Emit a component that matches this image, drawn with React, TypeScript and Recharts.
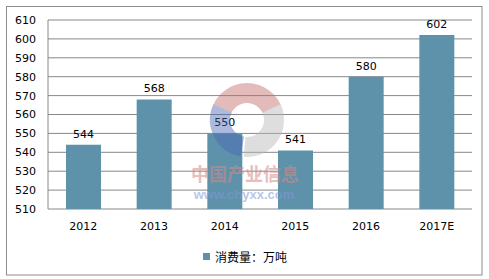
import React from "react";
import { BarChart, Bar, XAxis, YAxis, CartesianGrid, LabelList } from "recharts";

const categories = ["2012", "2013", "2014", "2015", "2016", "2017E"];
const consumption = [544, 568, 550, 541, 580, 602];
const yTicks = [510, 520, 530, 540, 550, 560, 570, 580, 590, 600, 610];
const legendLabel = "消费量：万吨";

const data = categories.map((c, i) => ({ name: c, value: consumption[i] }));

const BAR = "#5E92AA";
const FONT = "'DejaVu Sans', Verdana, sans-serif";

function arcPath(cx: number, cy: number, r: number, a0: number, a1: number) {
  const rad = (a: number) => (a * Math.PI) / 180;
  const x0 = cx + r * Math.cos(rad(a0));
  const y0 = cy + r * Math.sin(rad(a0));
  const x1 = cx + r * Math.cos(rad(a1));
  const y1 = cy + r * Math.sin(rad(a1));
  const large = Math.abs(a1 - a0) > 180 ? 1 : 0;
  return `M${x0},${y0} A${r},${r} 0 ${large} 1 ${x1},${y1}`;
}

export default function App() {
  return (
    <div style={{ position: "absolute", left: 0, top: 0, width: 489, height: 279, background: "#fff" }}>
      <svg width={489} height={279} style={{ position: "absolute", left: 0, top: 0 }}>
        <rect x={6.5} y={6.5} width={475.5} height={268.5} fill="#fff" stroke="#8c8c8c" strokeWidth={1} />
      </svg>
      <div style={{ position: "absolute", left: 0, top: 0 }}>
        <BarChart
          width={489}
          height={279}
          data={data}
          margin={{ top: 20, right: 17, left: 0, bottom: 40 }}
          barCategoryGap="25%"
        >
          <CartesianGrid vertical={false} stroke="#888" strokeWidth={1} />
          <XAxis
            dataKey="name"
            height={30}
            axisLine={false}
            tickLine={false}
            tickSize={0}
            tickMargin={13}
            tick={{ fontSize: 11, fill: "#000", fontFamily: FONT }}
            interval={0}
          />
          <YAxis
            width={48}
            domain={[510, 610]}
            ticks={yTicks}
            interval={0}
            axisLine={{ stroke: "#888" }}
            tickLine={false}
            tickSize={0}
            tickMargin={12}
            tick={{ fontSize: 11, fill: "#000", fontFamily: FONT }}
            allowDataOverflow
          />
          <Bar dataKey="value" fill={BAR} isAnimationActive={false} barSize={35}>
            <LabelList dataKey="value" position="top" offset={7} style={{ fontSize: 11, fill: "#000", fontFamily: FONT }} />
          </Bar>
        </BarChart>
      </div>
      <svg width={489} height={279} style={{ position: "absolute", left: 0, top: 0, pointerEvents: "none" }}>
        <g opacity={0.45} fill="none" strokeWidth={20}>
          <path d={arcPath(247, 120, 27, 195, 345)} stroke="#c46a6a" />
          <path d={arcPath(247, 120, 27, 335, 455)} stroke="#b8b8b8" />
          <path d={arcPath(247, 120, 27, 100, 205)} stroke="#4a67b8" />
        </g>
        <text x={245} y={181} textAnchor="middle" fontSize={18} fontWeight="bold" fill="#d48888" opacity={0.55} fontFamily="'Noto Sans CJK SC', sans-serif">中国产业信息</text>
        <text x={244} y={199} textAnchor="middle" fontSize={13} fontWeight="bold" fill="#7f9ad8" opacity={0.55} fontFamily="Arial, 'Liberation Sans', sans-serif">www.chyxx.com</text>
      </svg>
      <div style={{ position: "absolute", left: 203, top: 248, display: "flex", alignItems: "center", fontFamily: "'Noto Sans CJK SC', sans-serif", fontSize: 12, color: "#000" }}>
        <div style={{ width: 7, height: 7, background: BAR, marginRight: 5 }} />
        <span>{legendLabel}</span>
      </div>
    </div>
  );
}
